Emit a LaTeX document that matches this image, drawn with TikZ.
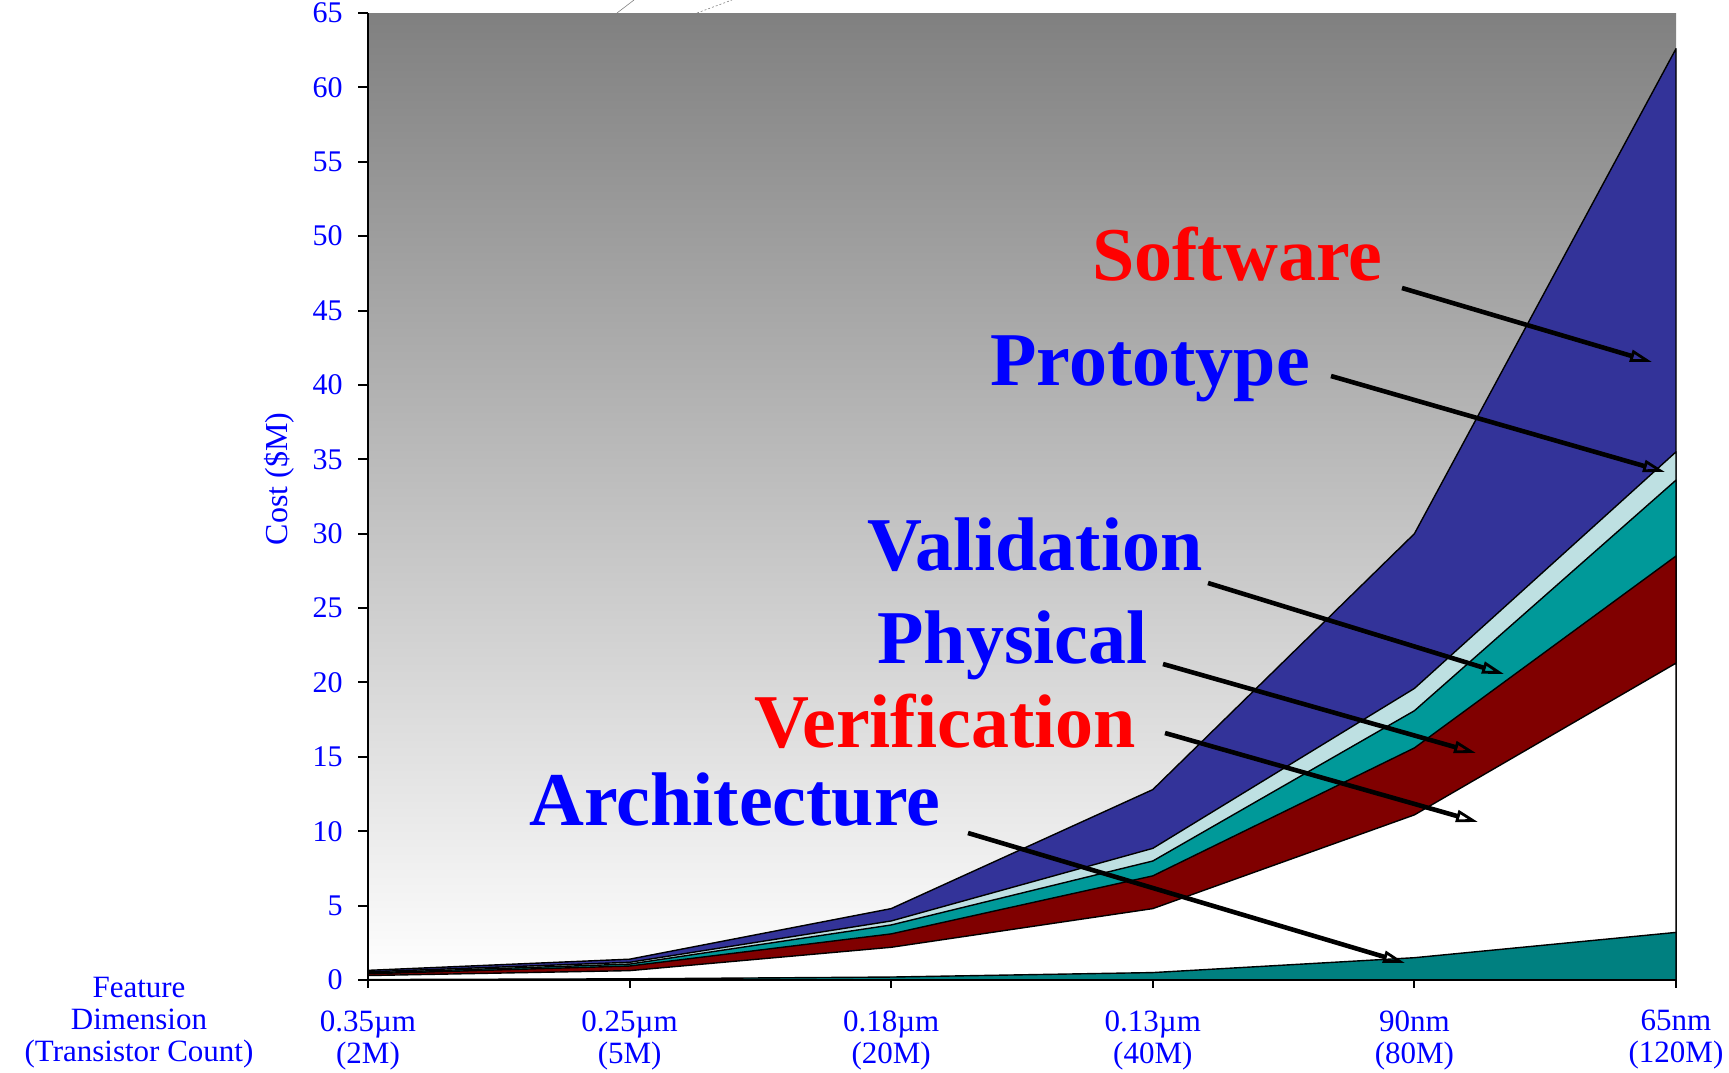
\documentclass[tikz,border=0pt]{standalone}
\usepackage{fontspec}
\setmainfont{Liberation Serif}
\usetikzlibrary{arrows.meta}
\definecolor{softc}{RGB}{51,51,153}
\definecolor{protoc}{RGB}{190,224,226}
\definecolor{validc}{RGB}{0,153,153}
\definecolor{physc}{RGB}{128,0,0}
\definecolor{archc}{RGB}{0,128,128}
\definecolor{labblue}{RGB}{0,0,255}
\definecolor{labred}{RGB}{255,0,0}
\definecolor{topgray}{RGB}{128,128,128}
\begin{document}
\begin{tikzpicture}[x=0.5pt,y=-0.5pt,
  band/.style={draw=black, line width=0.7pt, line join=round},
  biglab/.style={font=\fontsize{38}{44}\selectfont\bfseries, inner sep=0pt, anchor=base west},
  ylab/.style={font=\fontsize{15}{18}\selectfont, text=labblue, inner sep=0pt, anchor=east},
  xlab/.style={font=\fontsize{15.5}{16}\selectfont, text=labblue, inner sep=0pt, anchor=north, align=center},
  labarrow/.style={draw=black, line width=2.3pt, -{Triangle[open,length=11pt,width=6pt,line width=1.4pt]}},
  axisline/.style={draw=black, line width=1.3pt},
  tickmark/.style={draw=black, line width=1pt},
  faint/.style={draw=gray, line width=0.3pt}
]
\useasboundingbox (0,0) rectangle (1729,1072);
% background of plot area
\shade[top color=topgray, bottom color=white] (368,13) rectangle (1676,980);
% faint lines at top
\draw[faint] (617,13) -- (634,0);
\draw[faint, dashed, dash pattern=on 1pt off 1pt] (697,13) -- (732,0);

\begin{scope}[shift={(368,980)}, x=130.8pt, y=7.4385pt]
  % stacked areas
  \filldraw[band, fill=softc] (0,0) -- (0,0.65) -- (1,1.4) -- (2,4.8) -- (3,12.8) -- (4,30.0) -- (5,62.6) -- (5,0) -- cycle;
  \filldraw[band, fill=protoc] (0,0) -- (0,0.55) -- (1,1.19) -- (2,3.97) -- (3,8.85) -- (4,19.6) -- (5,35.5) -- (5,0) -- cycle;
  \filldraw[band, fill=validc] (0,0) -- (0,0.48) -- (1,1.07) -- (2,3.7) -- (3,8.0) -- (4,18.1) -- (5,33.6) -- (5,0) -- cycle;
  \filldraw[band, fill=physc] (0,0) -- (0,0.42) -- (1,0.94) -- (2,3.1) -- (3,7.0) -- (4,15.6) -- (5,28.5) -- (5,0) -- cycle;
  \filldraw[band, fill=white] (0,0) -- (0,0.3) -- (1,0.63) -- (2,2.2) -- (3,4.8) -- (4,11.1) -- (5,21.3) -- (5,0) -- cycle;
  \filldraw[band, fill=archc] (0,0) -- (0,0.03) -- (1,0.08) -- (2,0.2) -- (3,0.5) -- (4,1.5) -- (5,3.2) -- (5,0) -- cycle;
  % axes
  \draw[axisline] (0,65) -- (0,0);
  \draw[axisline] (0,0) -- (5,0);
  \foreach \v in {0,5,...,65} {
    \draw[tickmark] (0,\v) -- ++(-5pt,0);
    \node[ylab] (yl\v) at ([xshift=-12.5pt]0,\v) {\v};
  }
  \foreach \i in {0,...,5} {
    \draw[tickmark] (\i,0) -- ++(0,-4pt);
  }
  \node[xlab] (xl0) at ([yshift=-15pt]0,0) {0.35µm\\(2M)};
  \node[xlab] (xl1) at ([yshift=-15pt]1,0) {0.25µm\\(5M)};
  \node[xlab] (xl2) at ([yshift=-15pt]2,0) {0.18µm\\(20M)};
  \node[xlab] (xl3) at ([yshift=-15pt]3,0) {0.13µm\\(40M)};
  \node[xlab] (xl4) at ([yshift=-15pt]4,0) {90nm\\(80M)};
  \node[xlab] (xl5) at ([yshift=-15pt]5,0) {65nm\\(120M)};
\end{scope}

\node[xlab] (feat) at (139,977) {Feature\\Dimension\\(Transistor Count)};
\node[font=\fontsize{16}{18}\selectfont, text=labblue, inner sep=0pt, rotate=90] (ytitle) at (279,479) {Cost (\$M)};

% big labels
\node[biglab, text=labred] (lsoft) at (1092,280) {Software};
\node[biglab, text=labblue] (lproto) at (990,385) {Prototype};
\node[biglab, text=labblue] (lvalid) at (867,570) {Validation};
\node[biglab, text=labblue] (lphys) at (877,663) {Physical};
\node[biglab, text=labred] (lverif) at (754,747) {Verification};
\node[biglab, text=labblue] (larch) at (529,825) {Architecture};

% arrow coordinates
\coordinate (softS) at (1402,288);  \coordinate (softE) at (1652,362);
\coordinate (protoS) at (1331,376); \coordinate (protoE) at (1665,472);
\coordinate (validS) at (1208,583); \coordinate (validE) at (1504,674);
\coordinate (physS) at (1163,664);  \coordinate (physE) at (1476,753);
\coordinate (verifS) at (1165,733); \coordinate (verifE) at (1478,822);
\coordinate (archS) at (968,833);   \coordinate (archE) at (1405,963);
\draw[labarrow] (softS) -- (softE);
\draw[labarrow] (protoS) -- (protoE);
\draw[labarrow] (validS) -- (validE);
\draw[labarrow] (physS) -- (physE);
\draw[labarrow] (verifS) -- (verifE);
\draw[labarrow] (archS) -- (archE);
\end{tikzpicture}
\end{document}
